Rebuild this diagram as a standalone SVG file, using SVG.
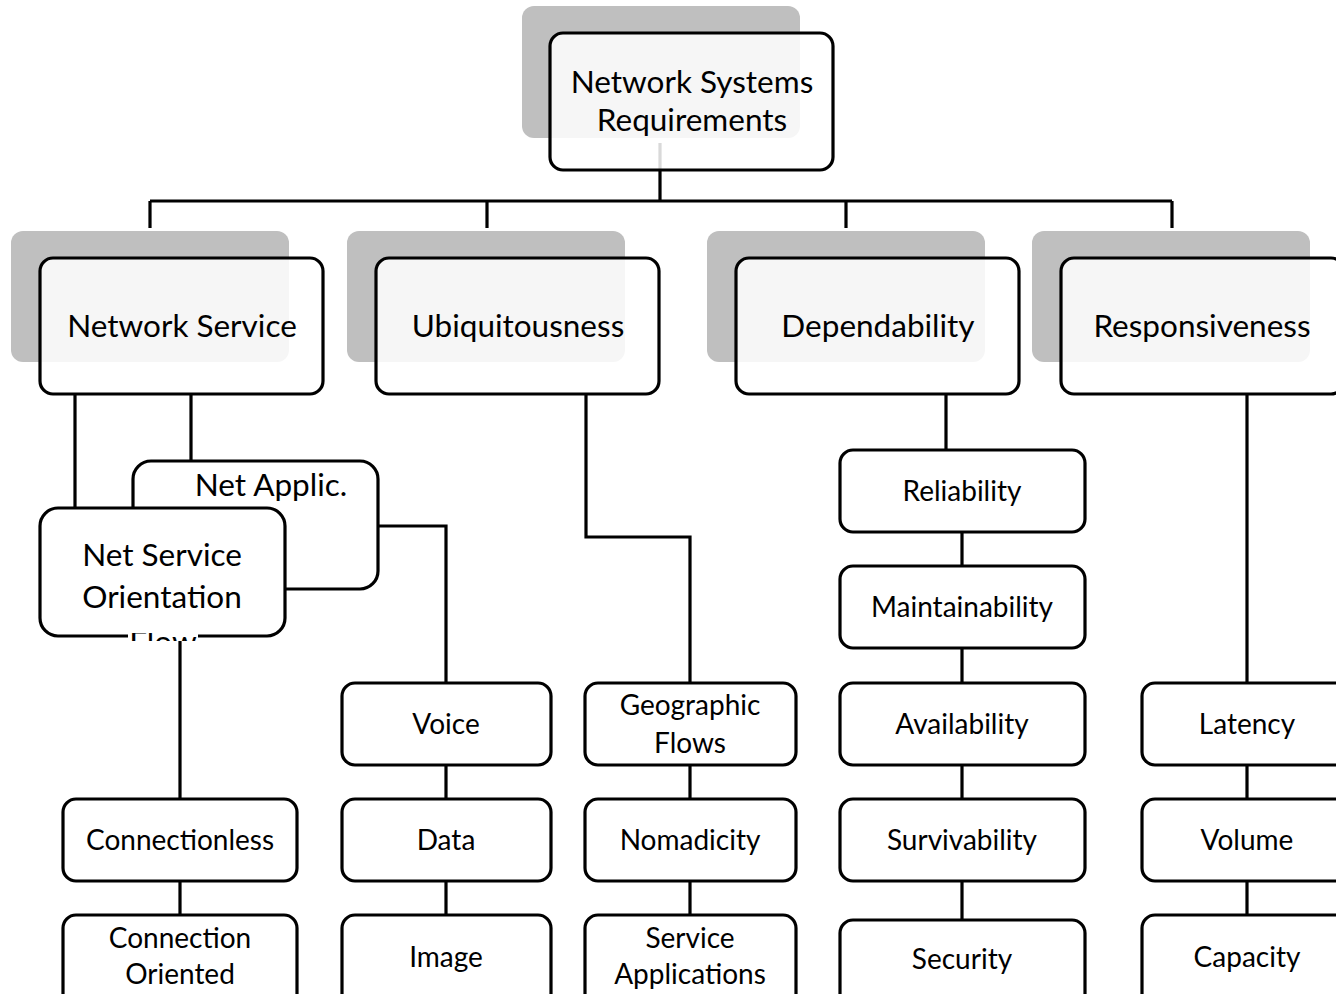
<svg xmlns="http://www.w3.org/2000/svg" width="1336" height="994" viewBox="0 0 1336 994">
<defs>
<style>
.bg{fill:#ffffff}
.sh{fill:#bfbfbf}
.bx{fill:#ffffff;fill-opacity:0.85;stroke:#000;stroke-width:3.2}
.bs{fill:#ffffff;stroke:#000;stroke-width:3.2}
.c{fill:none;stroke:#000;stroke-width:3.2}
text{font-family:Lato,"Open Sans","Liberation Sans",sans-serif;fill:#000;text-anchor:middle}
.t1{font-size:31.5px}
.t2{font-size:28px}
</style>
<clipPath id="flowclip"><rect x="128" y="633" width="70" height="8"/></clipPath>
</defs>
<rect class="bg" x="0" y="0" width="1336" height="994"/>
<g id="connectors">
<path class="c" d="M660 143V201M150 201H1172M150 201V228M487 201V228M846 201V228M1172 201V228"/>
<path class="c" d="M75 394V508M191 394V461"/>
<path class="c" d="M378 526H446V683M446 765V799M446 881V915"/>
<path class="c" d="M180 641V799M180 881V915"/>
<path class="c" d="M586 394V537H690V683M690 765V799M690 881V915"/>
<path class="c" d="M946 394V450M962 532V566M962 648V683M962 765V799M962 881V920"/>
<path class="c" d="M1247 394V683M1247 765V799M1247 881V915"/>
</g>
<g id="n-root">
<rect class="sh" x="522" y="6" width="278" height="132" rx="12"/>
<rect class="bx" x="550" y="33" width="283" height="137" rx="13"/>
<text class="t1" x="692" y="93">Network Systems</text>
<text class="t1" x="692" y="131">Requirements</text>
</g>
<g id="n-netservice">
<rect class="sh" x="11" y="231" width="278" height="131" rx="12"/>
<rect class="bx" x="40" y="258" width="283" height="136" rx="13"/>
<text class="t1" x="182" y="337">Network Service</text>
</g>
<g id="n-ubiq">
<rect class="sh" x="347" y="231" width="278" height="131" rx="12"/>
<rect class="bx" x="376" y="258" width="283" height="136" rx="13"/>
<text class="t1" x="518" y="337">Ubiquitousness</text>
</g>
<g id="n-depend">
<rect class="sh" x="707" y="231" width="278" height="131" rx="12"/>
<rect class="bx" x="736" y="258" width="283" height="136" rx="13"/>
<text class="t1" x="878" y="337">Dependability</text>
</g>
<g id="n-resp">
<rect class="sh" x="1032" y="231" width="278" height="131" rx="12"/>
<rect class="bx" x="1061" y="258" width="283" height="136" rx="13"/>
<text class="t1" x="1202" y="337">Responsiveness</text>
</g>
<g id="n-netapplic">
<rect class="bs" x="133" y="461" width="245" height="128" rx="18"/>
<text class="t1" x="271" y="496">Net Applic.</text>
</g>
<g id="n-nso">
<rect class="bs" x="40" y="508" width="245" height="128" rx="18"/>
<text class="t1" x="162" y="566">Net Service</text>
<text class="t1" x="162" y="608">Orientation</text>
</g>
<g id="n-flow" clip-path="url(#flowclip)">
<rect x="128" y="633" width="70" height="8" fill="#fff"/>
<text class="t1" x="163" y="653">Flow</text>
</g>
<g id="n-connectionless">
<rect class="bs" x="63" y="799" width="234" height="82" rx="13"/>
<text class="t2" x="180" y="850">Connectionless</text>
</g>
<g id="n-connoriented">
<rect class="bs" x="63" y="915" width="234" height="100" rx="13"/>
<text class="t2" x="180" y="948">Connection</text>
<text class="t2" x="180" y="984">Oriented</text>
</g>
<g id="n-voice">
<rect class="bs" x="342" y="683" width="209" height="82" rx="13"/>
<text class="t2" x="446" y="734">Voice</text>
</g>
<g id="n-data">
<rect class="bs" x="342" y="799" width="209" height="82" rx="13"/>
<text class="t2" x="446" y="850">Data</text>
</g>
<g id="n-image">
<rect class="bs" x="342" y="915" width="209" height="100" rx="13"/>
<text class="t2" x="446" y="967">Image</text>
</g>
<g id="n-geo">
<rect class="bs" x="585" y="683" width="211" height="82" rx="13"/>
<text class="t2" x="690" y="715">Geographic</text>
<text class="t2" x="690" y="753">Flows</text>
</g>
<g id="n-nomad">
<rect class="bs" x="585" y="799" width="211" height="82" rx="13"/>
<text class="t2" x="690" y="850">Nomadicity</text>
</g>
<g id="n-svcapp">
<rect class="bs" x="585" y="915" width="211" height="100" rx="13"/>
<text class="t2" x="690" y="948">Service</text>
<text class="t2" x="690" y="984">Applications</text>
</g>
<g id="n-reliab">
<rect class="bs" x="840" y="450" width="245" height="82" rx="13"/>
<text class="t2" x="962" y="501">Reliability</text>
</g>
<g id="n-maint">
<rect class="bs" x="840" y="566" width="245" height="82" rx="13"/>
<text class="t2" x="962" y="617">Maintainability</text>
</g>
<g id="n-avail">
<rect class="bs" x="840" y="683" width="245" height="82" rx="13"/>
<text class="t2" x="962" y="734">Availability</text>
</g>
<g id="n-surv">
<rect class="bs" x="840" y="799" width="245" height="82" rx="13"/>
<text class="t2" x="962" y="850">Survivability</text>
</g>
<g id="n-sec">
<rect class="bs" x="840" y="920" width="245" height="100" rx="13"/>
<text class="t2" x="962" y="969">Security</text>
</g>
<g id="n-latency">
<rect class="bs" x="1142" y="683" width="210" height="82" rx="13"/>
<text class="t2" x="1247" y="734">Latency</text>
</g>
<g id="n-volume">
<rect class="bs" x="1142" y="799" width="210" height="82" rx="13"/>
<text class="t2" x="1247" y="850">Volume</text>
</g>
<g id="n-capacity">
<rect class="bs" x="1142" y="915" width="210" height="100" rx="13"/>
<text class="t2" x="1247" y="967">Capacity</text>
</g>
</svg>
